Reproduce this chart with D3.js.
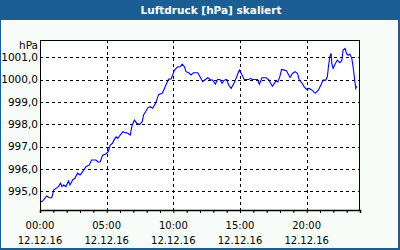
<!DOCTYPE html>
<html>
<head>
<meta charset="utf-8">
<script src="https://cdn.jsdelivr.net/npm/d3@7"></script>
<style>
  html, body { margin: 0; padding: 0; background: #fff; }
  svg { display: block; }
</style>
</head>
<body>
<div id="chart"></div>
<script>
const title = "Luftdruck [hPa] skaliert"
const unit = "hPa"
const dateLabel = "12.12.16"

// minutes since 00:00
const minutes = [0, 12, 30, 42, 53, 62, 72, 83, 92, 99, 106, 117, 128, 135, 147, 157, 169, 180, 192, 207,
  222, 232, 252, 262, 271, 282, 296, 307, 316, 326, 337, 343, 350, 361, 373, 380, 395, 406, 415, 425,
  436, 448, 460, 466, 475, 485, 496, 507, 520, 534, 550, 560, 570, 579, 590, 597, 605, 620, 631, 640,
  650, 657, 669, 680, 690, 710, 720, 732, 744, 755, 765, 777, 789, 799, 810, 819, 829, 840, 849, 860,
  874, 885, 897, 904, 919, 939, 949, 955, 979, 987, 999, 1017, 1028, 1046, 1062, 1070, 1080, 1087, 1099, 1109,
  1125, 1136, 1148, 1159, 1166, 1178, 1189, 1199, 1211, 1223, 1238, 1253, 1264, 1274, 1286, 1293, 1298, 1304, 1310, 1313,
  1319, 1328, 1338, 1349, 1358, 1364, 1373, 1379, 1386, 1394, 1403, 1410, 1416, 1421, 1425]
const pressure = [994.51, 994.56, 994.79, 994.71, 994.71, 995.06, 995.13, 995.21, 995.36, 995.21, 995.28, 995.21, 995.46, 995.28, 995.51, 995.58, 995.81, 995.73, 995.88, 996.10,
  996.18, 996.40, 996.40, 996.30, 996.32, 996.62, 996.67, 996.77, 997.07, 997.15, 997.37, 997.44, 997.37, 997.52, 997.67, 997.64, 997.60, 997.52, 997.97, 998.19,
  998.04, 998.00, 998.12, 998.42, 998.56, 998.74, 998.79, 998.72, 998.94, 999.34, 999.39, 999.61, 999.84, 1000.03, 1000.03, 1000.21, 1000.43, 1000.58, 1000.58, 1000.70,
  1000.58, 1000.36, 1000.31, 1000.21, 1000.31, 1000.31, 1000.13, 999.91, 1000.01, 1000.09, 1000.01, 999.98, 999.80, 1000.01, 1000.01, 999.84, 999.98, 1000.01, 999.76, 999.61,
  999.86, 1000.13, 1000.43, 1000.31, 1000.01, 1000.01, 1000.06, 1000.01, 1000.01, 999.80, 1000.09, 1000.09, 1000.01, 999.71, 999.95, 999.90, 1000.16, 1000.46, 1000.43, 1000.40,
  1000.10, 1000.28, 1000.36, 1000.28, 1000.01, 999.86, 999.68, 999.57, 999.61, 999.54, 999.39, 999.54, 999.76, 999.98, 999.98, 1000.13, 1000.58, 1001.03, 1001.18, 1000.73,
  1000.51, 1000.70, 1000.88, 1000.76, 1000.85, 1001.33, 1001.40, 1001.18, 1001.10, 1001.15, 1000.96, 1000.51, 999.98, 999.61, 999.71]

const yTicks = [995, 996, 997, 998, 999, 1000, 1001]
const xLabelHours = [0, 5, 10, 15, 20]

const width = 400, height = 250
const plot = { left: 40, top: 40, right: 360, bottom: 210 }
const frameColor = "#1b5e94"

const svg = d3.select("#chart").append("svg")
  .attr("width", width)
  .attr("height", height)
  .style("font-family", "'DejaVu Sans', Verdana, sans-serif")

// panel + title bar
svg.append("rect").attr("width", width).attr("height", height).attr("fill", frameColor)
svg.append("rect").attr("x", 1).attr("y", 20).attr("width", width - 3).attr("height", height - 22).attr("fill", "#f8fcf8")

svg.append("text")
  .attr("x", 211).attr("y", 14)
  .attr("text-anchor", "middle")
  .attr("fill", "#fff")
  .attr("font-weight", "bold")
  .attr("font-size", "10.5px")
  .text(title)

const x = d3.scaleLinear().domain([0, 1440]).range([plot.left, plot.right])
const y = d3.scaleLinear().domain([994.16, 1001.78]).range([plot.bottom, plot.top])

const snap = v => Math.round(v) + 0.5

svg.append("rect")
  .attr("x", plot.left).attr("y", plot.top)
  .attr("width", plot.right - plot.left).attr("height", plot.bottom - plot.top)
  .attr("fill", "#fff")

// horizontal grid
svg.append("g").selectAll("line")
  .data(yTicks)
  .join("line")
  .attr("x1", plot.left).attr("x2", plot.right)
  .attr("y1", d => snap(y(d))).attr("y2", d => snap(y(d)))
  .attr("stroke", "#000")
  .attr("stroke-dasharray", "3,3")

// vertical grid
svg.append("g").selectAll("line")
  .data(xLabelHours.slice(1))
  .join("line")
  .attr("x1", d => snap(x(d * 60))).attr("x2", d => snap(x(d * 60)))
  .attr("y1", plot.top).attr("y2", plot.bottom)
  .attr("stroke", "#000")
  .attr("stroke-dasharray", "3,3")

// data line
const line = d3.line()
  .x((d, i) => x(minutes[i]))
  .y(d => y(d))

svg.append("path")
  .datum(pressure)
  .attr("d", line)
  .attr("fill", "none")
  .attr("stroke", "#0000ff")
  .attr("stroke-width", 1.1)

// plot border
svg.append("rect")
  .attr("x", plot.left + 0.5).attr("y", plot.top + 0.5)
  .attr("width", plot.right - plot.left - 1).attr("height", plot.bottom - plot.top)
  .attr("fill", "none")
  .attr("stroke", "#000")

// x axis
const xAxis = d3.axisBottom(x)
  .tickValues(d3.range(0, 25).map(h => h * 60))
  .tickSize(3)
  .tickFormat("")

svg.append("g")
  .attr("transform", `translate(0,${plot.bottom})`)
  .call(xAxis)
  .call(g => g.select(".domain").attr("stroke-width", 1.5))

const labels = svg.append("g")
  .attr("font-size", "10px")
  .attr("fill", "#000")
  .attr("text-anchor", "middle")
  .selectAll("g")
  .data(xLabelHours)
  .join("g")
  .attr("transform", d => `translate(${x(d * 60)},0)`)

labels.append("text")
  .attr("y", 229)
  .text(d => String(d).padStart(2, "0") + ":00")

labels.append("text")
  .attr("y", 244)
  .text(dateLabel)

// y labels
const fmt = d3.format(".1f")
svg.append("g")
  .attr("font-size", "10.5px")
  .attr("text-anchor", "end")
  .selectAll("text")
  .data(yTicks)
  .join("text")
  .attr("x", 38)
  .attr("y", d => y(d))
  .attr("dy", "0.35em")
  .text(d => fmt(d).replace(".", ","))

svg.append("text")
  .attr("x", 38).attr("y", 49)
  .attr("font-size", "10.5px")
  .attr("text-anchor", "end")
  .text(unit)
</script>
</body>
</html>
